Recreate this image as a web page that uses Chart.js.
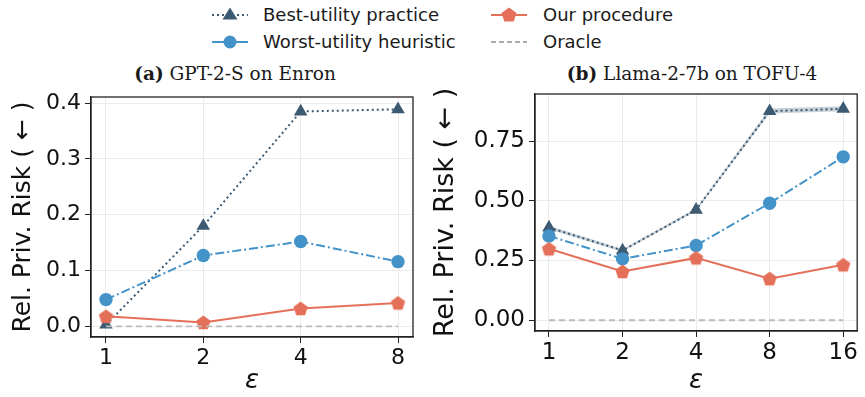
<!DOCTYPE html>
<html>
<head>
<meta charset="utf-8">
<script src="https://cdn.jsdelivr.net/npm/chart.js@4.4.0/dist/chart.umd.min.js"></script>
<style>
  body { margin: 0; background: #fff; width: 865px; height: 397px; position: relative; overflow: hidden; font-family: "DejaVu Sans", sans-serif; }
  .box { position: absolute; }
  .leg { position: absolute; font-size: 18px; color: #1a1a1a; white-space: nowrap; line-height: 22px; }
  .leg svg { position: absolute; }
  .title { position: absolute; font-family: "DejaVu Serif", serif; font-size: 18.5px; color: #1a1a1a; white-space: nowrap; transform: translateX(-50%); }
</style>
</head>
<body>
<!-- legend -->
<div class="leg" style="left:210px; top:4px;">
  <svg width="40" height="22" style="left:0;top:0"><line x1="2" y1="11" x2="38" y2="11" stroke="#3d5a73" stroke-width="2" stroke-dasharray="2,3"/><polygon points="20,3.5 27.5,15.5 12.5,15.5" fill="#3d5a73"/></svg>
  <span style="position:absolute;left:53px;top:0">Best-utility practice</span>
</div>
<div class="leg" style="left:210px; top:31px;">
  <svg width="40" height="22" style="left:0;top:0"><line x1="2" y1="11" x2="38" y2="11" stroke="#4393c9" stroke-width="2"/><circle cx="20" cy="11" r="6.5" fill="#4393c9"/></svg>
  <span style="position:absolute;left:53px;top:0">Worst-utility heuristic</span>
</div>
<div class="leg" style="left:489px; top:4px;">
  <svg width="40" height="22" style="left:0;top:0"><line x1="2" y1="11" x2="38" y2="11" stroke="#e5705a" stroke-width="2"/><polygon points="20,3.5 27.5,9 24.7,17.5 15.3,17.5 12.5,9" fill="#e5705a"/></svg>
  <span style="position:absolute;left:54px;top:0">Our procedure</span>
</div>
<div class="leg" style="left:489px; top:31px;">
  <svg width="40" height="22" style="left:0;top:0"><line x1="2" y1="11" x2="38" y2="11" stroke="#aaaaaa" stroke-width="1.8" stroke-dasharray="5,3"/></svg>
  <span style="position:absolute;left:54px;top:0">Oracle</span>
</div>

<div class="title" style="left:235px; top:63px;"><b>(a)</b> GPT-2-S on Enron</div>
<div class="title" style="left:692px; top:63px;"><b>(b)</b> Llama-2-7b on TOFU-4</div>

<div class="box" style="left:0; top:60px; width:430px; height:337px;"><canvas id="chartA"></canvas></div>
<div class="box" style="left:430px; top:60px; width:435px; height:337px;"><canvas id="chartB"></canvas></div>

<script>
// ---- data ----
const epsA = ['1', '2', '4', '8'];
const bestA = [0.003, 0.180, 0.385, 0.389];
const worstA = [0.048, 0.127, 0.152, 0.116];
const oursA = [0.018, 0.007, 0.032, 0.042];
const oracleA = [0, 0, 0, 0];
const yTicksA = [0, 0.1, 0.2, 0.3, 0.4];

const epsB = ['1', '2', '4', '8', '16'];
const bestB = [0.388, 0.292, 0.462, 0.875, 0.885];
const bestBLow = [0.380, 0.287, 0.457, 0.865, 0.875];
const bestBHigh = [0.396, 0.298, 0.468, 0.886, 0.896];
const worstB = [0.353, 0.257, 0.313, 0.490, 0.684];
const oursB = [0.299, 0.204, 0.261, 0.174, 0.232];
const oracleB = [0, 0, 0, 0, 0];
const yTicksB = [0, 0.25, 0.5, 0.75];

const C = {
  best: '#3d5a73',
  worst: '#4393c9',
  ours: '#e5705a',
  oracle: '#bbbbbb',
  grid: '#ebebeb',
  axis: '#222222'
};

// pentagon marker for "Our procedure"
function pentagon(color, r) {
  const c = document.createElement('canvas');
  const s = Math.ceil(r * 2 + 2);
  c.width = s; c.height = s;
  const g = c.getContext('2d');
  g.fillStyle = color;
  g.beginPath();
  for (let i = 0; i < 5; i++) {
    const a = -Math.PI / 2 + i * 2 * Math.PI / 5;
    const px = s / 2 + r * Math.cos(a), py = s / 2 + r * Math.sin(a) + 0.6;
    i ? g.lineTo(px, py) : g.moveTo(px, py);
  }
  g.closePath();
  g.fill();
  return c;
}
const pent = pentagon(C.ours, 7.5);

const pts = arr => arr.map((v, i) => ({ x: i, y: v }));

function makeChart(id, labels, best, worst, ours, oracle, band, yTicks, ymin, ymax, geom) {
  const n = labels.length;
  const datasets = [];
  if (band) {
    datasets.push({ data: pts(band[0]), borderColor: 'transparent', pointRadius: 0, fill: false, order: 6 });
    datasets.push({ data: pts(band[1]), borderColor: 'transparent', backgroundColor: 'rgba(61,90,115,0.28)', pointRadius: 0, fill: '-1', order: 5 });
  }
  datasets.push(
    { label: 'Best-utility practice', data: pts(best), borderColor: C.best, backgroundColor: C.best,
      borderWidth: 2, borderDash: [2, 3], pointStyle: 'triangle', pointRadius: 7.8, pointBorderWidth: 0, order: 4 },
    { label: 'Worst-utility heuristic', data: pts(worst), borderColor: C.worst, backgroundColor: C.worst,
      borderWidth: 2, borderDash: [9, 3, 2, 3], pointStyle: 'circle', pointRadius: 6.7, pointBorderWidth: 0, order: 3 },
    { label: 'Our procedure', data: pts(ours), borderColor: C.ours, backgroundColor: C.ours,
      borderWidth: 2, pointStyle: pent, order: 2 },
    { label: 'Oracle', data: pts(oracle), borderColor: C.oracle, borderWidth: 1.8, borderDash: [6, 4],
      pointRadius: 0, order: 1 }
  );

  return new Chart(document.getElementById(id), {
    type: 'line',
    data: { datasets },
    options: {
      responsive: true,
      maintainAspectRatio: false,
      animation: false,
      layout: { padding: { top: geom.top, right: geom.right, left: 0, bottom: 0 } },
      plugins: { legend: { display: false }, tooltip: { enabled: false } },
      scales: {
        x: {
          type: 'linear',
          min: -geom.xpad, max: n - 1 + geom.xpad,
          afterBuildTicks: s => { s.ticks = labels.map((_, i) => ({ value: i })); },
          afterFit: s => { s.height = geom.xh; },
          ticks: { callback: v => labels[v], color: '#111', font: { family: 'DejaVu Sans', size: geom.fs }, padding: 2, maxRotation: 0 },
          grid: { color: C.grid, tickColor: C.axis, tickLength: 6, lineWidth: 1 },
          border: { color: C.axis, width: 1.3 },
          title: { display: true, text: 'ε', color: '#111', font: { family: 'DejaVu Sans', size: 26, style: 'italic' }, padding: { top: 0, bottom: geom.xtb } }
        },
        y: {
          min: ymin, max: ymax,
          afterBuildTicks: s => { s.ticks = yTicks.map(v => ({ value: v })); },
          afterFit: s => { s.width = geom.yw; },
          ticks: { callback: v => geom.fmt(v), color: '#111', font: { family: 'DejaVu Sans', size: geom.fs }, padding: 4 },
          grid: { color: C.grid, tickColor: C.axis, tickLength: 6, lineWidth: 1 },
          border: { color: C.axis, width: 1.3 },
          title: { display: true, text: 'Rel. Priv. Risk ( ← )', color: '#111', font: { family: 'DejaVu Sans', size: geom.ls }, padding: { top: geom.ytp, bottom: 0 } }
        }
      }
    },
    plugins: [{
      id: 'frame',
      afterDraw(chart) {
        const { ctx, chartArea: a } = chart;
        ctx.save();
        ctx.strokeStyle = C.axis;
        ctx.lineWidth = 1.3;
        ctx.strokeRect(a.left, a.top, a.right - a.left, a.bottom - a.top);
        ctx.restore();
      }
    }]
  });
}

makeChart('chartA', epsA, bestA, worstA, oursA, oracleA, null, yTicksA, -0.019, 0.411,
  { top: 37, right: 17, xh: 60, yw: 91, xpad: 0.154, ytp: 8, xtb: 0, fs: 22, ls: 25, fmt: v => v.toFixed(1) });
makeChart('chartB', epsB, bestB, worstB, oursB, oracleB, [bestBLow, bestBHigh], yTicksB, -0.045, 0.947,
  { top: 34, right: 2, xh: 66, yw: 105, xpad: 0.19, ytp: 0, xtb: 0, fs: 23, ls: 27, fmt: v => v.toFixed(2) });
</script>
</body>
</html>
